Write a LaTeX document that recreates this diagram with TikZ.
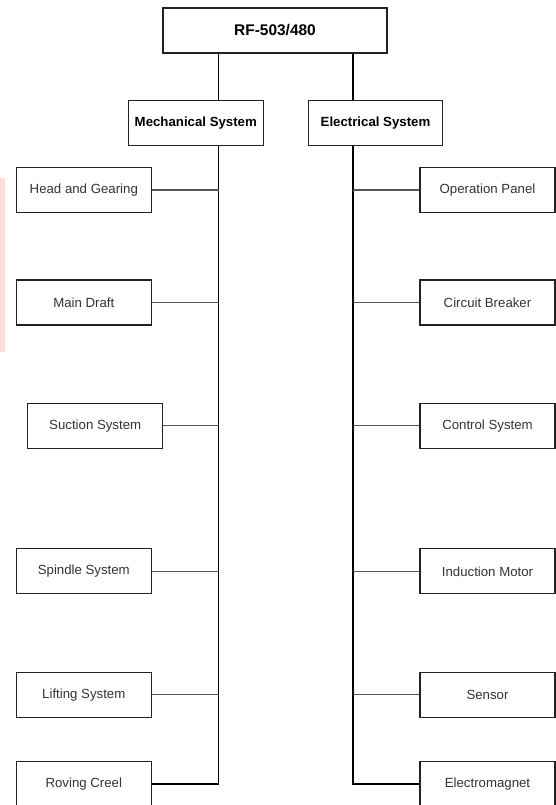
\documentclass[tikz,border=0pt]{standalone}
\usepackage{fontspec}
\setmainfont{Liberation Sans}
\usepackage{xcolor}
\definecolor{ink}{HTML}{222222}
\definecolor{label}{HTML}{333333}
\definecolor{wire}{HTML}{555555}
\definecolor{blush}{HTML}{FFDCDC}
\usepackage{tikz}
\usetikzlibrary{positioning, calc}

\begin{document}
\begin{tikzpicture}[
    x=0.03cm, y=-0.03cm,
    font=\fontsize{11.3}{13}\selectfont,
    part/.style={draw=ink, line width=0.9pt, fill=white, minimum width=4.05cm, minimum height=1.35cm, inner sep=0pt, align=center, text=label},
    group/.style={part, font=\fontsize{11.3}{13}\selectfont\bfseries, text=black},
    wire/.style={draw=wire, line width=0.9pt},
    trunk/.style={draw=black, line width=0.9pt}
]
\useasboundingbox (0,0) rectangle (555,805);

% ── Margin mark ──
\fill[blush] (0,178) rectangle (5,352);

% ── Top ──
\node[group, minimum width=6.72cm, font=\fontsize{13.2}{15}\selectfont\bfseries] (root) at (275,30.5) {RF-503/480};

% ── Branches ──
\node[group] (mech) at (195.8,122.8) {Mechanical System};
\node[group, minimum width=4.03cm] (elec) at (375.5,122.8) {Electrical System};

\coordinate (mtr) at (218.5,0);
\coordinate (etr) at (353,0);

% ── Mechanical parts ──
\node[part] (hg) at (83.8,190) {Head and Gearing};
\node[part] (md) at (83.8,302.5) {Main Draft};
\node[part] (ss) at (95.2,425.8) {Suction System};
\node[part] (sp) at (83.8,571.3) {Spindle System};
\node[part] (ls) at (83.8,694.8) {Lifting System};
\node[part] (rc) at (83.8,784) {Roving Creel};

% ── Electrical parts ──
\node[part] (op) at (487.5,190) {Operation Panel};
\node[part] (cb) at (487.5,302.5) {Circuit Breaker};
\node[part] (cs) at (487.5,425.8) {Control System};
\node[part] (im) at (487.5,571.3) {Induction Motor};
\node[part] (sn) at (487.5,694.8) {Sensor};
\node[part] (em) at (487.5,784) {Electromagnet};

% ── Connectors ──
\draw[trunk] (root.south -| mtr) -- (mech.north -| mtr);
\draw[trunk] (root.south -| etr) -- (elec.north -| etr);
\draw[trunk] (mech.south -| mtr) |- (rc.east);
\draw[trunk] (elec.south -| etr) |- (em.west);

\foreach \p in {hg, md, ss, sp, ls}
    \draw[wire] (\p.east) -- (\p.east -| mtr);
\foreach \p in {op, cb, cs, im, sn}
    \draw[wire] (\p.west) -- (\p.west -| etr);
\end{tikzpicture}
\end{document}
